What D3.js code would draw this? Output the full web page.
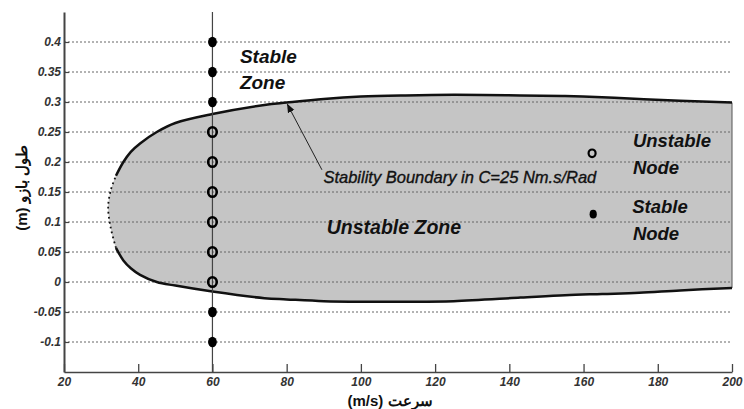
<!DOCTYPE html>
<html>
<head>
<meta charset="utf-8">
<script src="https://cdn.jsdelivr.net/npm/d3@7"></script>
<style>
  html, body { margin: 0; padding: 0; background: #fff; }
  svg { display: block; }
  text { font-family: "Liberation Sans", Arial, sans-serif; }
</style>
</head>
<body>
<svg id="chart" width="744" height="409"></svg>
<script>
// ---------- data ----------
const boundarySpeed = [31.9, 32.6, 34, 36, 38, 40.5, 45, 50, 60, 74, 80, 90, 100, 112, 125, 143, 155, 165, 175, 186, 200];
const upperLength   = [0.125, 0.153, 0.177, 0.200, 0.217, 0.231, 0.250, 0.265, 0.280, 0.295, 0.299, 0.305, 0.309, 0.311, 0.312, 0.311, 0.310, 0.308, 0.305, 0.302, 0.299];
const lowerLength   = [0.125, 0.090, 0.057, 0.036, 0.023, 0.012, 0.000, -0.006, -0.016, -0.027, -0.029, -0.032, -0.033, -0.033, -0.032, -0.026, -0.022, -0.020, -0.018, -0.014, -0.010];

const testSpeed = 60;
const stableLengths   = [0.4, 0.35, 0.3, -0.05, -0.1];
const unstableLengths = [0.25, 0.2, 0.15, 0.1, 0.05, 0];

const xTicks = [20, 40, 60, 80, 100, 120, 140, 160, 180, 200];
const yTicks = [-0.1, -0.05, 0, 0.05, 0.1, 0.15, 0.2, 0.25, 0.3, 0.35, 0.4];
const yTickLabels = ["-0.1", "-0.05", "0", "0.05", "0.1", "0.15", "0.2", "0.25", "0.3", "0.35", "0.4"];

const xDomain = [20, 200];
const yDomain = [-0.15, 0.45];

// legend markers (data coordinates)
const legendUnstable = {speed: 162.3, length: 0.2145};
const legendStable   = {speed: 162.6, length: 0.113};

// ---------- layout ----------
const svg = d3.select("#chart");
const x = d3.scaleLinear().domain(xDomain).range([64, 732]);
const y = d3.scaleLinear().domain(yDomain).range([372, 12]);

// unstable region fill
const upperPts = boundarySpeed.map((s, i) => [s, upperLength[i]]);
const lowerPts = boundarySpeed.map((s, i) => [s, lowerLength[i]]);
const loop = lowerPts.slice().reverse().concat(upperPts.slice(1));
const line = d3.line().x(d => x(d[0])).y(d => y(d[1])).curve(d3.curveCatmullRom.alpha(0.5));

svg.append("path")
  .attr("d", line(loop) + `L${x(200)},${y(lowerLength[lowerLength.length-1])}Z`)
  .attr("fill", "#c5c5c5")
  .attr("stroke", "none");

// right edge of region
svg.append("line")
  .attr("x1", x(200)).attr("x2", x(200))
  .attr("y1", y(upperLength[upperLength.length-1])).attr("y2", y(lowerLength[lowerLength.length-1]))
  .attr("stroke", "#555").attr("stroke-width", 1);

// horizontal dotted grid
svg.append("g").selectAll("line").data(yTicks).join("line")
  .attr("x1", x(20)).attr("x2", x(200))
  .attr("y1", d => y(d)).attr("y2", d => y(d))
  .attr("stroke", "#666").attr("stroke-width", 1)
  .attr("stroke-dasharray", "2,2");

// boundary line: solid branches and sparse-dotted nose
const lowerBranch = lowerPts.slice(2);
const upperBranch = upperPts.slice(2);
const nose = lowerPts.slice(0, 3).reverse().concat(upperPts.slice(1, 3));
svg.append("path").attr("d", line(lowerBranch))
  .attr("fill", "none").attr("stroke", "#111").attr("stroke-width", 2.5);
svg.append("path").attr("d", line(upperBranch))
  .attr("fill", "none").attr("stroke", "#111").attr("stroke-width", 2.5);
svg.append("path").attr("d", line(nose))
  .attr("fill", "none").attr("stroke", "#111").attr("stroke-width", 1.8)
  .attr("stroke-dasharray", "1.8,3.2");

// vertical line at test speed
svg.append("line")
  .attr("x1", x(testSpeed)).attr("x2", x(testSpeed))
  .attr("y1", y(yDomain[1])).attr("y2", y(yDomain[0]))
  .attr("stroke", "#444").attr("stroke-width", 1.2);

// axes
const xAxis = d3.axisBottom(x).tickValues(xTicks).tickFormat(d3.format("d"))
  .tickSizeInner(-8).tickSizeOuter(0).tickPadding(5);
const gx = svg.append("g").attr("transform", `translate(0,${y(yDomain[0])})`).call(xAxis);
gx.select(".domain").attr("stroke", "#444").attr("stroke-width", 1.6);
gx.selectAll(".tick line").attr("stroke", "#444").attr("stroke-width", 1.3);
gx.selectAll("text").attr("font-size", 12).attr("font-style", "italic").attr("font-weight", "bold").attr("fill", "#333");

const yAxis = d3.axisLeft(y).tickValues(yTicks).tickFormat((d, i) => yTickLabels[i])
  .tickSizeInner(-5).tickSizeOuter(0).tickPadding(3);
const gy = svg.append("g").attr("transform", `translate(${x(xDomain[0])},0)`).call(yAxis);
gy.select(".domain").attr("stroke", "#444").attr("stroke-width", 2);
gy.selectAll(".tick line").attr("stroke", "#444").attr("stroke-width", 1.2);
gy.selectAll("text").attr("font-size", 12).attr("font-style", "italic").attr("font-weight", "bold").attr("fill", "#333");

// points
svg.append("g").selectAll("ellipse").data(stableLengths).join("ellipse")
  .attr("cx", x(testSpeed)).attr("cy", d => y(d))
  .attr("rx", 4.4).attr("ry", 5.2).attr("fill", "#000");
svg.append("g").selectAll("ellipse").data(unstableLengths).join("ellipse")
  .attr("cx", x(testSpeed)).attr("cy", d => y(d))
  .attr("rx", 4.3).attr("ry", 4.8).attr("fill", "none")
  .attr("stroke", "#000").attr("stroke-width", 2.6);

// legend markers
svg.append("ellipse")
  .attr("cx", x(legendUnstable.speed)).attr("cy", y(legendUnstable.length))
  .attr("rx", 3.5).attr("ry", 3.8).attr("fill", "none").attr("stroke", "#000").attr("stroke-width", 2.2);
svg.append("ellipse")
  .attr("cx", x(legendStable.speed)).attr("cy", y(legendStable.length))
  .attr("rx", 3.6).attr("ry", 4.4).attr("fill", "#000");

// text annotations
function label(txt, sx, ly, size, weight, sw) {
  svg.append("text").attr("x", x(sx)).attr("y", y(ly))
    .attr("font-size", size).attr("font-style", "italic").attr("font-weight", weight)
    .attr("fill", "#111").attr("stroke", sw ? "#111" : "none").attr("stroke-width", sw || 0)
    .text(txt);
}
label("Stable", 67.4, 0.3655, 19, "bold");
label("Zone", 67.4, 0.321, 19, "bold");
label("Unstable Zone", 90.8, 0.080, 19.5, "bold");
label("Unstable", 173.3, 0.225, 18.5, "bold");
label("Node", 173.3, 0.180, 18.5, "bold");
label("Stable", 173.1, 0.115, 18.5, "bold");
label("Node", 173.3, 0.070, 18.5, "bold");
label("Stability Boundary in C=25 Nm.s/Rad", 89.9, 0.1645, 16.5, "normal", 0.35);

// arrow
svg.append("defs").append("marker")
  .attr("id", "arr").attr("viewBox", "0 0 10 10").attr("refX", 9).attr("refY", 5)
  .attr("markerWidth", 9).attr("markerHeight", 9).attr("orient", "auto")
  .attr("markerUnits", "userSpaceOnUse")
  .append("path").attr("d", "M0,1 L10,5 L0,9 Z").attr("fill", "#111");
svg.append("line")
  .attr("x1", x(89.5)).attr("y1", y(0.187))
  .attr("x2", x(80.2)).attr("y2", y(0.296))
  .attr("stroke", "#222").attr("stroke-width", 1)
  .attr("marker-end", "url(#arr)");

// axis titles
svg.append("text")
  .attr("x", 390).attr("y", 406).attr("text-anchor", "middle")
  .attr("font-family", "'Liberation Serif', 'DejaVu Serif', serif")
  .attr("font-weight", "bold").attr("font-size", 15).attr("fill", "#111")
  .text("(m/s) سرعت");

svg.append("text")
  .attr("transform", "translate(27,188) rotate(-90)")
  .attr("text-anchor", "middle")
  .attr("font-family", "'Liberation Serif', 'DejaVu Serif', serif")
  .attr("font-weight", "bold").attr("font-size", 15).attr("fill", "#111")
  .text("(m) طول بازو");
</script>
</body>
</html>
